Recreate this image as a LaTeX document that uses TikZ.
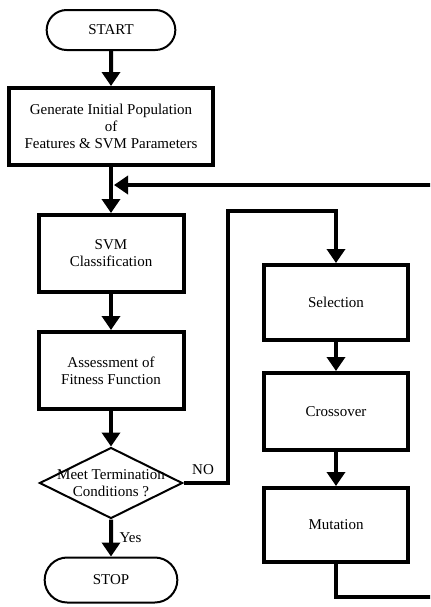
\documentclass[tikz,border=0pt]{standalone}
\usepackage{fontspec}
\setmainfont{Liberation Serif}
\usepackage{tikz}
\usetikzlibrary{positioning, arrows.meta, shapes.geometric, shapes.misc}

\begin{document}
\begin{tikzpicture}[
    x=0.5pt, y=-0.5pt,
    term/.style={rounded rectangle, draw, line width=1pt,
                 minimum width=71pt, minimum height=20pt,
                 font=\fontsize{7.5}{8.5}\selectfont},
    proc/.style={rectangle, draw, line width=2pt,
                 minimum width=72.5pt, minimum height=38.5pt,
                 font=\fontsize{7.5}{8.5}\selectfont, align=center},
    dec/.style={diamond, draw, line width=1pt, inner sep=0pt,
                minimum width=71.5pt, minimum height=35.5pt},
    arrow/.style={-{Triangle[length=7pt, width=9pt]}, line width=2pt},
    small/.style={font=\fontsize{7.5}{8.2}\selectfont},
]
\useasboundingbox (0,0) rectangle (430,607);
\clip (0,0) rectangle (430,607);

% ============== main column ==============
\node[term] (start) at (111,30) {START};
\node[proc, minimum width=102pt] (gen) at (111,126.5)
    {Generate Initial Population\\of\\Features \& SVM Parameters};
\node[proc] (svm) at (111,253.5) {SVM\\Classification};
\node[proc] (fit) at (111,370.5) {Assessment of\\Fitness Function};
\node[dec] (cond) at (111,483) {};
\node[small, align=center] (condtxt) at (cond) {Meet Termination\\Conditions ?};
\node[term, minimum width=73pt, minimum height=22.5pt] (stop) at (111,580) {STOP};

\draw[arrow] (start) -- (gen);
\draw[arrow] (gen) -- (svm);
\draw[arrow] (svm) -- (fit);
\draw[arrow] (fit) -- (cond);
\draw[arrow] (cond) -- node[small, right] (yes) {Yes} (stop);

% ============== genetic operators ==============
\node[proc, minimum width=72pt, minimum height=37.5pt] (sel) at (336,302.5) {Selection};
\node[proc, minimum width=72pt, minimum height=38.5pt] (cross) at (336,411.5) {Crossover};
\node[proc, minimum width=72pt, minimum height=37pt] (mut) at (336,525) {Mutation};

\draw[arrow] (sel) -- (cross);
\draw[arrow] (cross) -- (mut);

% ============== loops ==============
\coordinate (nobend) at (228,211);
\draw[arrow] (cond.east) -| node[small, above, pos=0.22] (no) {NO} (nobend) -| (sel.north);

\coordinate (rb) at (445,597);
\coordinate (rt) at (445,185);
\coordinate (join) at (111,185);
\draw[arrow, shorten >=1.5pt] (mut.south) |- (rb) -- (rt) -- (join);

\end{tikzpicture}
\end{document}
